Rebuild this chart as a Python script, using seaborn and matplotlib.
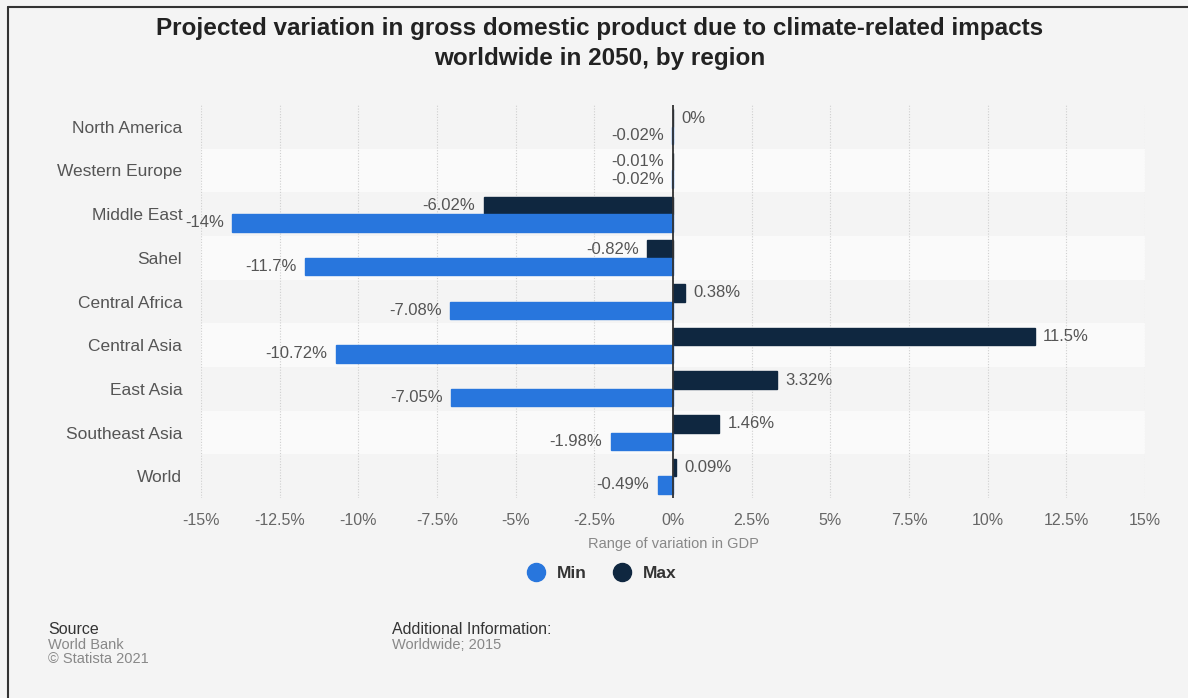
import pandas as pd
import matplotlib.pyplot as plt
import seaborn as sns
from matplotlib.lines import Line2D

# Data
regions = ['North America', 'Western Europe', 'Middle East', 'Sahel', 'Central Africa',
           'Central Asia', 'East Asia', 'Southeast Asia', 'World']
min_values = [-0.02, -0.02, -14, -11.7, -7.08, -10.72, -7.05, -1.98, -0.49]
max_values = [0, -0.01, -6.02, -0.82, 0.38, 11.5, 3.32, 1.46, 0.09]
x_ticks = [-15, -12.5, -10, -7.5, -5, -2.5, 0, 2.5, 5, 7.5, 10, 12.5, 15]

df = pd.DataFrame({
    'region': regions * 2,
    'value': max_values + min_values,
    'series': ['Max'] * len(regions) + ['Min'] * len(regions),
})

sns.set_style('white')
plt.rcParams['font.family'] = ['Liberation Sans', 'DejaVu Sans']

bg = '#f4f4f4'
colors = {'Min': '#2876dd', 'Max': '#0f2740'}

fig = plt.figure(figsize=(11.88, 6.98), dpi=100, facecolor=bg)
ax = fig.add_axes([0.1692, 0.2865, 0.7946, 0.5631])
ax.set_facecolor(bg)

# alternating row bands
for i in range(len(regions)):
    if i % 2 == 1:
        ax.axhspan(i - 0.5, i + 0.5, color='#fafafa', zorder=0, lw=0)

for t in x_ticks:
    ax.axvline(t, color='#cfcfcf', lw=0.8, ls=(0, (1, 1.5)), zorder=0.5)

sns.barplot(data=df, x='value', y='region', hue='series', hue_order=['Max', 'Min'],
            palette=colors, saturation=1, orient='h', width=0.8, linewidth=0, ax=ax,
            legend=False, zorder=2)

for cont in ax.containers:
    for p in cont:
        p.set_edgecolor(p.get_facecolor())
        p.set_linewidth(1)
    labels = [f'{v:g}%' for v in cont.datavalues]
    ax.bar_label(cont, labels=labels, padding=6, fontsize=12, color='#555555')

ax.axvline(0, color='#333333', lw=1.3, zorder=3)

ax.set_xlim(-15, 15)
ax.set_ylim(len(regions) - 0.5, -0.5)
ax.set_xticks(x_ticks)
ax.set_xticklabels([f'{t:g}%' for t in x_ticks])
ax.tick_params(axis='x', length=0, pad=11, labelsize=11.5, labelcolor='#666666')
ax.tick_params(axis='y', length=0, pad=13.5, labelsize=12.5, labelcolor='#555555')
ax.set_ylabel('')
ax.set_xlabel('Range of variation in GDP', fontsize=10.5, color='#888888', labelpad=6)
for s in ax.spines.values():
    s.set_visible(False)

fig.text(0.505, 1 - 28 / 698, 'Projected variation in gross domestic product due to climate-related impacts',
         ha='center', va='center', fontsize=17.5, fontweight='bold', color='#222222')
fig.text(0.505, 1 - 58 / 698, 'worldwide in 2050, by region',
         ha='center', va='center', fontsize=17.5, fontweight='bold', color='#222222')

handles = [Line2D([], [], marker='o', ls='', markersize=13, color=colors[k]) for k in ['Min', 'Max']]
leg = fig.legend(handles, ['Min', 'Max'], loc='center', bbox_to_anchor=(0.503, 0.179),
                 ncol=2, frameon=False, handletextpad=0.2, columnspacing=1.0,
                 prop={'weight': 'bold', 'size': 12.5})
for txt in leg.get_texts():
    txt.set_color('#333333')

# footer
fig.text(0.0404, 1 - 629 / 698, 'Source', fontsize=11.5, color='#333333', va='center')
fig.text(0.0404, 1 - 645 / 698, 'World Bank', fontsize=10.5, color='#888888', va='center')
fig.text(0.0404, 1 - 659 / 698, '© Statista 2021', fontsize=10.5, color='#888888', va='center')
fig.text(0.33, 1 - 629 / 698, 'Additional Information:', fontsize=11.5, color='#333333', va='center')
fig.text(0.33, 1 - 645 / 698, 'Worldwide; 2015', fontsize=10.5, color='#888888', va='center')

# frame lines (top and left)
fig.add_artist(Line2D([0.0067, 1], [0.99, 0.99], color='#333333', lw=1.5, transform=fig.transFigure))
fig.add_artist(Line2D([0.0067, 0.0067], [0, 0.99], color='#333333', lw=1.5, transform=fig.transFigure))

fig.savefig('out.png', dpi=100, facecolor=bg)
